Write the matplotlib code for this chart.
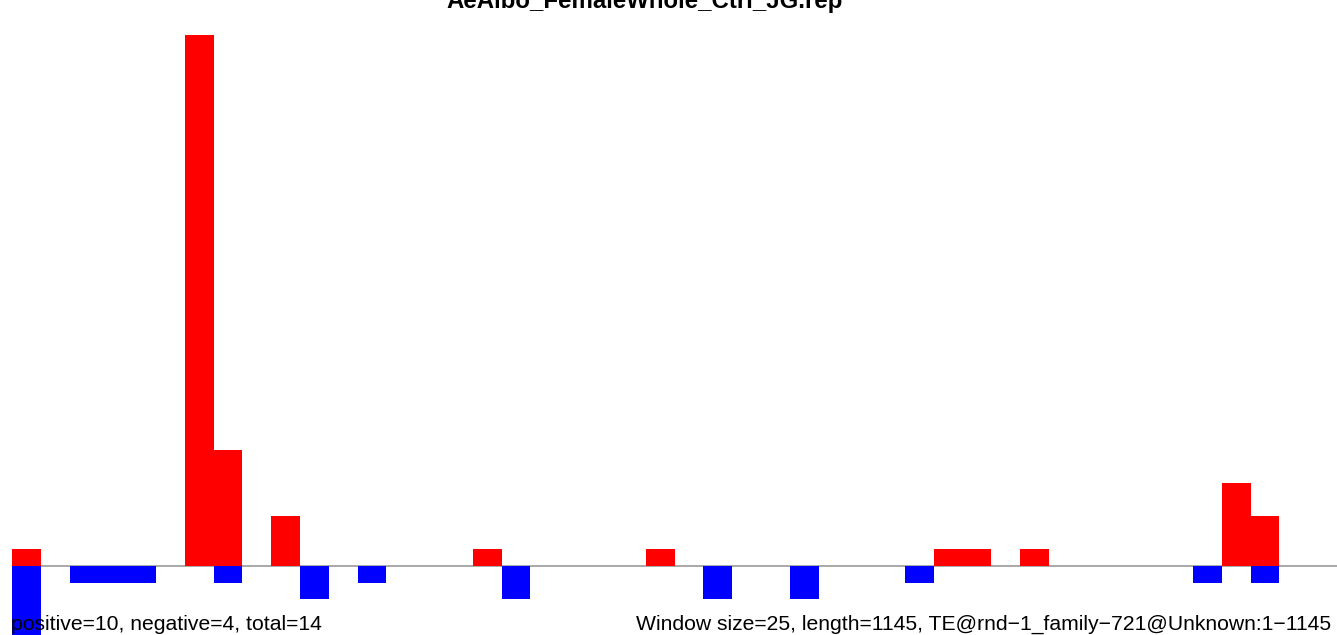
import numpy as np
import matplotlib
matplotlib.use("Agg")
import matplotlib.pyplot as plt

plt.rcParams['font.family'] = ['Liberation Sans', 'DejaVu Sans']

# window settings
window = 25
length = 1145
n_win = 46

# windows with signal (index -> value)
pos_idx = [0, 6, 7, 9, 16, 22, 32, 33, 35, 42, 43]
pos_val = [1, 32, 7, 3, 1, 1, 1, 1, 1, 5, 3]
neg_idx = [0, 2, 3, 4, 7, 10, 12, 17, 24, 27, 31, 41, 43]
neg_val = [5, 1, 1, 1, 1, 2, 1, 2, 2, 2, 1, 1, 1]

title = "AeAlbo_FemaleWhole_Ctrl_JG.rep"
left_note = "positive=10, negative=4, total=14"
right_note = "Window size=25, length=1145, TE@rnd\u22121_family\u2212721@Unknown:1\u22121145"

pos = np.zeros(n_win)
neg = np.zeros(n_win)
pos[pos_idx] = pos_val
neg[neg_idx] = neg_val
starts = np.arange(n_win) * window

fig = plt.figure(figsize=(13.37, 6.35), dpi=100)
ax = fig.add_axes([12/1337, 0, 1325/1337, 1])

ax.axhline(0, color='#999999', lw=1.2, zorder=1)
ax.bar(starts, pos, width=window, align='edge', color='#ff0000', lw=0, zorder=2)
ax.bar(starts, -neg, width=window, align='edge', color='#0000ff', lw=0, zorder=2)

ax.set_xlim(0, n_win * window)
ax.set_ylim(-4.16, 34.1)
ax.axis('off')

# title sits partly above the top edge, as in the original
fig.text(645/1337, 1 - 8/635, title, ha='center', va='baseline',
         fontsize=17.3, fontweight='bold')
fig.text(11/1337, 5/635, left_note, ha='left', va='baseline', fontsize=15.2, zorder=5)
fig.text(636/1337, 5/635, right_note, ha='left', va='baseline', fontsize=15.2, zorder=5)

fig.savefig("out.png", dpi=100)
